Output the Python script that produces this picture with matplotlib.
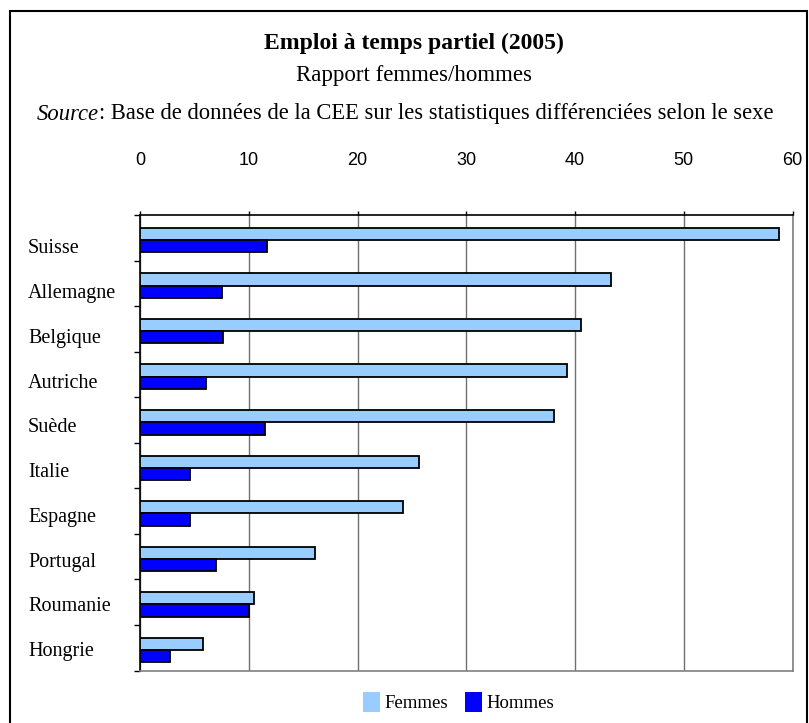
import numpy as np
import matplotlib
matplotlib.use('Agg')
import matplotlib.pyplot as plt
from matplotlib.patches import Patch, Rectangle
import matplotlib.transforms as mtransforms

# data
pays = ['Suisse', 'Allemagne', 'Belgique', 'Autriche', 'Suède',
        'Italie', 'Espagne', 'Portugal', 'Roumanie', 'Hongrie']
femmes = [58.8, 43.3, 40.5, 39.3, 38.1, 25.6, 24.2, 16.1, 10.5, 5.75]
hommes = [11.7, 7.55, 7.6, 6.05, 11.5, 4.55, 4.55, 7.0, 10.0, 2.7]
xticks = [0, 10, 20, 30, 40, 50, 60]

c_f = '#99CCFF'
c_h = '#0000FF'
serif = 'Liberation Serif'
sans = 'Liberation Sans'

W, H = 809, 723
fig = plt.figure(figsize=(W / 100, H / 100), dpi=100)
ax = fig.add_axes([140.2 / W, 1 - 670.5 / H, 652.3 / W, (670.5 - 215) / H])

y = np.arange(len(pays))
bh = 0.27
ax.barh(y - 0.085, femmes, height=bh, color=c_f, edgecolor='black', lw=1.3, zorder=3)
ax.barh(y + 0.185, hommes, height=bh, color=c_h, edgecolor='black', lw=1.3, zorder=3)

ax.set_xlim(0, 60)
ax.set_ylim(len(pays) - 0.5, -0.5)

# x axis on top
ax.xaxis.tick_top()
ax.set_xticks(xticks)
ax.set_xticklabels([str(v) for v in xticks], fontfamily=sans, fontsize=13)
ax.tick_params(axis='x', direction='out', length=3, width=1, pad=30, colors='black')
ax.grid(axis='x', color='#707070', lw=1, zorder=0)

# category boundaries as ticks, labels as text
ax.set_yticks(np.arange(len(pays) + 1) - 0.5)
ax.set_yticklabels([])
ax.tick_params(axis='y', direction='out', length=4, width=1)
blend = mtransforms.blended_transform_factory(fig.transFigure, ax.transData)
for i, p in enumerate(pays):
    off = mtransforms.ScaledTranslation(0, -(11 - 0.8 * i) / 100, fig.dpi_scale_trans)
    ax.text(28 / W, i, p, transform=blend + off,
            ha='left', va='center', fontfamily=serif, fontsize=14.5)

ax.spines['left'].set_color('black')
ax.spines['top'].set_color('black')
ax.spines['right'].set_color('#808080')
ax.spines['bottom'].set_color('#808080')
for s in ax.spines.values():
    s.set_linewidth(1.2)

# titles
xc = 414 / W
fig.text(xc, 1 - 43 / H, 'Emploi à temps partiel (2005)', ha='center', va='center',
         fontfamily=serif, fontweight='bold', fontsize=17)
fig.text(xc, 1 - 75 / H, 'Rapport femmes/hommes', ha='center', va='center',
         fontfamily=serif, fontsize=16.5)

ys = 1 - 114 / H
t1 = fig.text(0, ys, 'Source', ha='left', va='center', fontfamily=serif, fontstyle='italic', fontsize=16.3)
t2 = fig.text(0, ys, ': Base de données de la CEE sur les statistiques différenciées selon le sexe',
              ha='left', va='center', fontfamily=serif, fontsize=16.3)
r = fig.canvas.get_renderer()
w1 = t1.get_window_extent(r).width
w2 = t2.get_window_extent(r).width
x0 = 405 - (w1 + w2) / 2
t1.set_x(x0 / W)
t2.set_x((x0 + w1) / W)

# legend
handles = [Patch(facecolor=c_f, edgecolor='none'), Patch(facecolor=c_h, edgecolor='none')]
fig.legend(handles, ['Femmes', 'Hommes'], loc='center', bbox_to_anchor=(459 / W, 1 - 702 / H),
           ncol=2, frameon=False, prop={'family': serif, 'size': 13.5},
           handlelength=0.9, handleheight=1.3, handletextpad=0.25, columnspacing=0.9)

# outer border
fig.add_artist(Rectangle((10 / W, -0.01), 797 / W, 1 - 11 / H + 0.01, transform=fig.transFigure,
                         fill=False, edgecolor='black', lw=1.5))

fig.savefig('out.png', dpi=100)
